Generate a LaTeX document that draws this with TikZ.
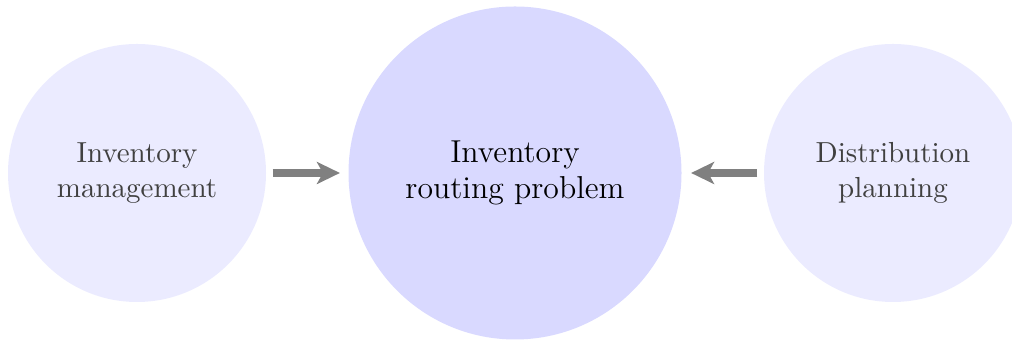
\documentclass[tikz,border=0pt]{standalone}
\usetikzlibrary{arrows.meta}
\begin{document}
\begin{tikzpicture}[x=0.35pt,y=0.35pt,
  side/.style={circle,fill=blue!8,minimum size=258*0.35pt,inner sep=0pt,align=center,
    text=black!75,font=\fontsize{10.15}{12}\selectfont},
  main/.style={circle,fill=blue!15,minimum size=333*0.35pt,inner sep=0pt,align=center,
    text=black,font=\fontsize{11.1}{12.6}\selectfont},
  conn/.style={draw=gray,line width=8*0.35pt,-{Stealth[length=23*0.35pt,width=22*0.35pt,inset=6*0.35pt]}}]
\useasboundingbox (0,0) rectangle (1012,343);
\begin{scope}
\clip (0,0) rectangle (1012,343);
\node[side] (inv) at (137,170) {Inventory\\management};
\node[main] (irp) at (515,170) {Inventory\\routing problem};
\node[side] (dist) at (893,170) {Distribution\\planning};
\end{scope}
\draw[conn,shorten <=6*0.35pt,shorten >=8*0.35pt] (inv) -- (irp);
\draw[conn,shorten <=6*0.35pt,shorten >=9*0.35pt] (dist) -- (irp);
\end{tikzpicture}
\end{document}
